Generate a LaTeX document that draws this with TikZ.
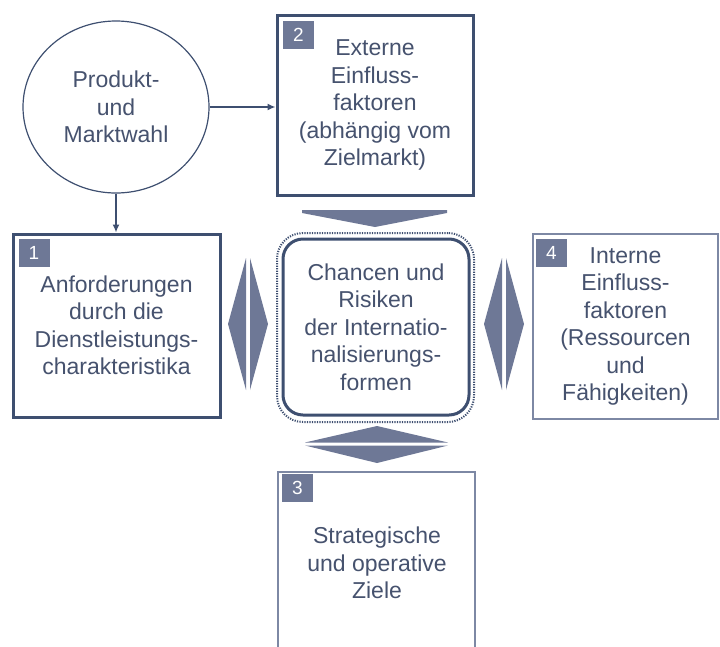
\documentclass[tikz,border=0pt]{standalone}
\usepackage{fontspec}
\setmainfont{Liberation Sans}
\usetikzlibrary{shapes.geometric,arrows.meta}
\definecolor{dk}{HTML}{3E4F70}
\definecolor{txt}{HTML}{46526E}
\definecolor{arr}{HTML}{6E7896}
\definecolor{thinc}{HTML}{7D88A4}
\tikzset{
  lbl/.style={text=txt, align=center, font=\fontsize{23}{27.5}\selectfont, inner sep=0pt},
  thickbox/.style={draw=dk, line width=3pt, fill=white, lbl},
  thinbox/.style={draw=thinc, line width=1.5pt, fill=white, lbl},
  badge/.style={fill=arr, text=white, minimum width=31pt, minimum height=28pt, inner sep=0pt, font=\fontsize{19}{19}\selectfont},
  conn/.style={draw=dk, line width=1.5pt, -{Latex[length=8pt,width=7pt]}},
  bigarr/.style={fill=arr, draw=none}
}
\begin{document}
\begin{tikzpicture}[x=1pt,y=-1pt]
\useasboundingbox (0,0) rectangle (720,646);
% ellipse
\node[ellipse, draw=dk, line width=1.2pt, lbl, minimum width=186pt, minimum height=172pt] (e) at (116,107) {Produkt-\\und\\Marktwahl};
% box 2
\node[thickbox, minimum width=196pt, minimum height=180pt] (b2) at (375,105) {Externe\\Einfluss-\\faktoren\\(abhängig vom\\Zielmarkt)};
\node[badge] (n2) at (298.5,34.5) {2};
% box 1
\node[thickbox, minimum width=207pt, minimum height=183pt] (b1) at (116.5,325.5) {Anforderungen\\durch die\\Dienstleistungs-\\charakteristika};
\node[badge] (n1) at (34,253) {1};
% box 4
\node[thinbox, minimum width=185pt, minimum height=185pt] (b4) at (625.5,326.5) {Interne\\Einfluss-\\faktoren\\(Ressourcen\\und\\Fähigkeiten)};
\node[badge] (n4) at (551.5,252.5) {4};
% box 3
\node[thinbox, minimum width=197pt, minimum height=208pt] (b3) at (376.5,576) {};
\node[lbl] (t3) at (377,563) {Strategische\\und operative\\Ziele};
\node[badge] (n3) at (297.5,488) {3};
% center
\node[draw=dk, line width=2pt, dash pattern=on 1.2pt off 1.3pt, rounded corners=26pt, minimum width=197pt, minimum height=189pt] (co) at (375.5,327.5) {};
\node[draw=dk, line width=3pt, rounded corners=20pt, lbl, minimum width=186pt, minimum height=176pt] (c) at (376,327) {Chancen und\\Risiken\\der Internatio-\\nalisierungs-\\formen};
% connectors
\draw[conn] (e.east) -- (e.east -| b2.west);
\draw[conn] (e.south) -- (e.south |- b1.north);
% big arrows
\fill[bigarr] (302,210) -- (447,210) -- (447,213) -- (375,227) -- (302,213) -- cycle;
\fill[bigarr] (246,258) -- (228,324) -- (246,390) -- cycle;
\fill[bigarr] (250,258) -- (268,324) -- (250,390) -- cycle;
\fill[bigarr] (502,258) -- (484,324) -- (502,390) -- cycle;
\fill[bigarr] (506,258) -- (524,324) -- (506,390) -- cycle;
\fill[bigarr] (305,442.5) -- (377,426) -- (448,442.5) -- cycle;
\fill[bigarr] (305,445.5) -- (448,445.5) -- (377,463) -- cycle;
\end{tikzpicture}
\end{document}
